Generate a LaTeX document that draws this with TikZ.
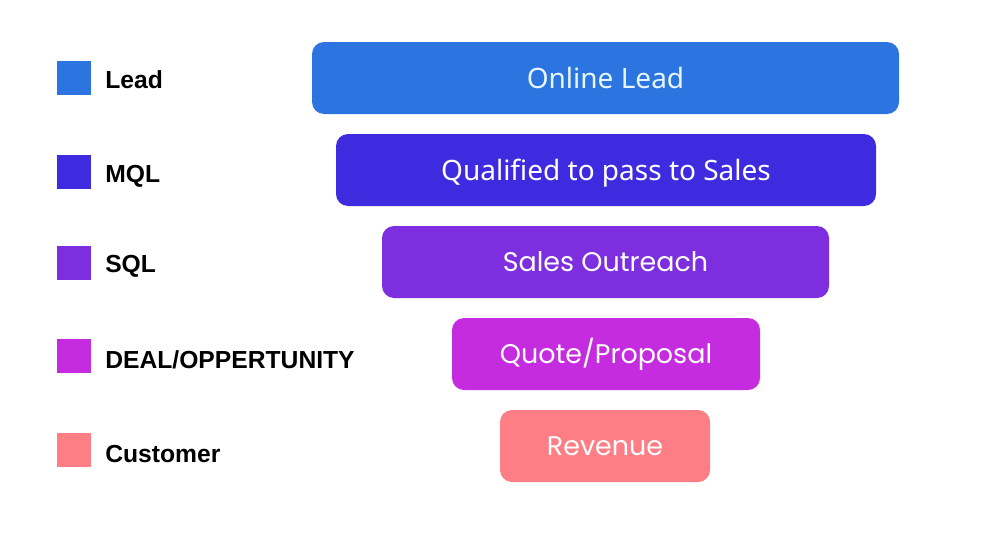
\documentclass[tikz,border=0pt]{standalone}
\usepackage{fontspec}
\setmainfont{Liberation Sans}
\newfontfamily\barfont{Noto Sans}
\newfontfamily\roundfont{Poppins}
\usetikzlibrary{positioning}

\definecolor{leadblue}{HTML}{2C74DF}
\definecolor{mqlblue}{HTML}{3F2BDF}
\definecolor{sqlviolet}{HTML}{7D2EDE}
\definecolor{dealpink}{HTML}{C62CDF}
\definecolor{custsalmon}{HTML}{FD7E85}
\definecolor{paletext}{HTML}{E8F6FF}

\begin{document}
\begin{tikzpicture}[
    x=0.75pt, y=-0.75pt,
    bar/.style={rectangle, rounded corners=9pt, minimum height=54pt, inner sep=0pt, text height=15pt, text depth=0pt, text=white, font=\barfont\fontsize{21}{24}\selectfont},
    roundbar/.style={bar, text height=14pt, font=\roundfont\fontsize{20.2}{24}\selectfont},
    keybox/.style={rectangle, minimum size=25.5pt, inner sep=0pt},
    keytext/.style={anchor=west, inner sep=0pt, font=\bfseries\fontsize{18.5}{22}\selectfont}
  ]
    \useasboundingbox (0,0) rectangle (984,539);
    % funnel bars
    \node[bar, fill=leadblue, text=paletext, minimum width=440.25pt] (online) at (605.5,78) {Online Lead};
    \node[bar, fill=mqlblue, minimum width=405pt] (qualified) at (606,170) {Qualified to pass to Sales};
    \node[roundbar, fill=sqlviolet, minimum width=335.25pt] (outreach) at (605.5,262) {Sales Outreach};
    \node[roundbar, fill=dealpink, minimum width=231pt] (quote) at (606,354) {Quote/Proposal};
    \node[roundbar, fill=custsalmon, minimum width=157.5pt] (revenue) at (605,446) {Revenue};
    % legend
    \node[keybox, fill=leadblue] (klead) at (74,78) {};
    \node[keybox, fill=mqlblue] (kmql) at (74,172) {};
    \node[keybox, fill=sqlviolet] (ksql) at (74,263) {};
    \node[keybox, fill=dealpink] (kdeal) at (74,356) {};
    \node[keybox, fill=custsalmon] (kcust) at (74,450) {};
    \node[keytext] (tlead) at (105,80) {Lead};
    \node[keytext] (tmql) at (105,176) {MQL};
    \node[keytext] (tsql) at (105,266) {SQL};
    \node[keytext] (tdeal) at (105,360) {DEAL/OPPERTUNITY};
    \node[keytext] (tcust) at (105,454) {Customer};
\end{tikzpicture}
\end{document}
